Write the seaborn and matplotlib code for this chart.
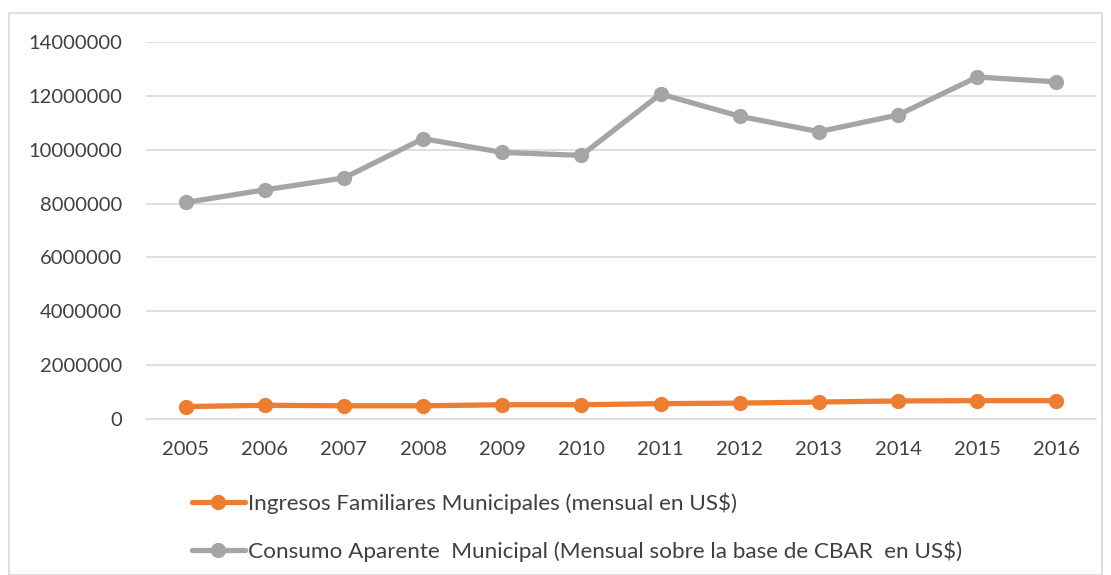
import pandas as pd
import matplotlib.pyplot as plt
import seaborn as sns
from matplotlib.patches import Rectangle

# === data ===
years = ["2005", "2006", "2007", "2008", "2009", "2010",
         "2011", "2012", "2013", "2014", "2015", "2016"]
ingresos = [460000, 510000, 490000, 490000, 530000, 530000,
            570000, 590000, 630000, 670000, 680000, 680000]
consumo = [8040000, 8510000, 8950000, 10410000, 9900000, 9790000,
           12070000, 11240000, 10670000, 11290000, 12700000, 12520000]

serie_ingresos = "Ingresos Familiares Municipales (mensual en US$)"
serie_consumo = "Consumo Aparente  Municipal (Mensual sobre la base de CBAR  en US$)"

df = pd.DataFrame({
    "year": years * 2,
    "value": ingresos + consumo,
    "serie": [serie_ingresos] * len(years) + [serie_consumo] * len(years),
})

sns.set_theme(style="white")
plt.rcParams["font.family"] = ["Lato", "DejaVu Sans"]

fig = plt.figure(figsize=(11.11, 5.75), dpi=100)
ax = fig.add_axes([146 / 1111, 1 - 419 / 575, 950 / 1111, 377 / 575])

sns.lineplot(
    data=df, x="year", y="value", hue="serie",
    palette={serie_ingresos: "#ED7D31", serie_consumo: "#A5A5A5"},
    marker="o", markersize=11, markeredgewidth=0,
    linewidth=3.8, sort=False, ax=ax, legend=True,
)

ax.set_xlim(-0.5, len(years) - 0.5)
ax.set_ylim(0, 14000000)
ax.set_yticks(range(0, 14000001, 2000000))
ax.set_yticklabels([str(v) for v in range(0, 14000001, 2000000)])
ax.yaxis.grid(True, color="#D9D9D9", linewidth=1.2)
ax.set_axisbelow(True)
for side in ["top", "right", "left"]:
    ax.spines[side].set_visible(False)
ax.spines["bottom"].set_color("#D9D9D9")
ax.spines["bottom"].set_linewidth(1.2)
ax.tick_params(axis="both", length=0, labelsize=14.5, colors="#404040")
ax.tick_params(axis="y", pad=17)
ax.tick_params(axis="x", pad=16)
ax.set_xlabel("")
ax.set_ylabel("")

handles, labels = ax.get_legend_handles_labels()
ax.get_legend().remove()
fig.legend(
    handles, labels, loc="upper left",
    bbox_to_anchor=(192 / 1111, 1 - 492 / 575),
    borderaxespad=0, borderpad=0,
    frameon=False, fontsize=16.2, handlelength=2.35, handletextpad=0.13,
    labelspacing=1.2, labelcolor="#404040",
)

# outer chart border
fig.patches.append(Rectangle((9 / 1111, 0), 1093 / 1111, 1 - 13 / 575,
                             transform=fig.transFigure, fill=False,
                             edgecolor="#D9D9D9", linewidth=1.2))

fig.savefig("out.png", dpi=100)
